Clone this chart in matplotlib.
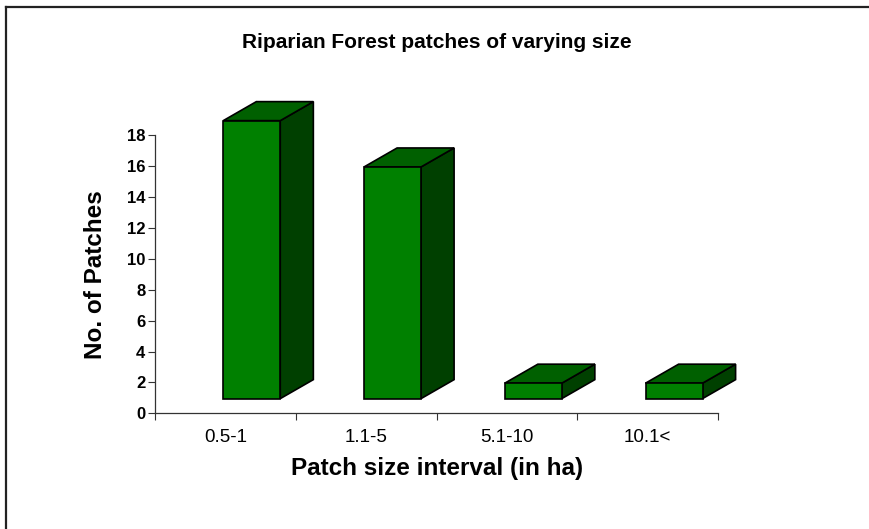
import matplotlib
matplotlib.use("Agg")
import matplotlib.pyplot as plt
from matplotlib.patches import Polygon
from matplotlib.lines import Line2D

plt.rcParams["font.family"] = ["Liberation Sans", "DejaVu Sans"]

# data
categories = ["0.5-1", "1.1-5", "5.1-10", "10.1<"]
patches = [18, 15, 1, 1]
yticks = [0, 2, 4, 6, 8, 10, 12, 14, 16, 18]

# pseudo-3D column geometry (data units), mimicking the Excel 3D look
BASE = 0.95            # floor offset of the front face
X0, W = 0.485, 0.405   # front face start within category and width
DX, DY = 0.235, 1.23   # depth offset of the back face
FRONT, TOP, SIDE = "#008000", "#006000", "#004000"

W_PX, H_PX, DPI = 869, 529, 100
fig = plt.figure(figsize=(W_PX / DPI, H_PX / DPI), dpi=DPI)
ax = fig.add_axes([155 / W_PX, (H_PX - 413.3) / H_PX,
                   (718 - 155) / W_PX, (413.3 - 135.3) / H_PX])
ax.set_xlim(0, 4)
ax.set_ylim(0, 18)

for i, v in enumerate(patches):
    x0, x1 = i + X0, i + X0 + W
    y0, y1 = BASE, BASE + v
    side = [(x1, y0), (x1 + DX, y0 + DY), (x1 + DX, y1 + DY), (x1, y1)]
    top = [(x0, y1), (x1, y1), (x1 + DX, y1 + DY), (x0 + DX, y1 + DY)]
    front = [(x0, y0), (x1, y0), (x1, y1), (x0, y1)]
    for pts, c in [(side, SIDE), (top, TOP), (front, FRONT)]:
        ax.add_patch(Polygon(pts, closed=True, facecolor=c, edgecolor="black",
                             linewidth=1.2, clip_on=False, zorder=3))

for s in ["top", "right"]:
    ax.spines[s].set_visible(False)
for s in ["left", "bottom"]:
    ax.spines[s].set_linewidth(0.9)
    ax.spines[s].set_color("#333333")

ax.set_yticks(yticks)
ax.set_yticklabels([str(t) for t in yticks], fontsize=12, fontweight="bold")
ax.set_xticks([0, 1, 2, 3, 4])
ax.set_xticklabels([])
ax.set_xticks([i + 0.5 for i in range(len(categories))], minor=True)
ax.set_xticklabels(categories, minor=True, fontsize=13.5)
ax.tick_params(axis="x", which="minor", length=0, pad=11)
ax.tick_params(axis="x", which="major", length=5, direction="out", color="#333333")
ax.tick_params(axis="y", length=5, direction="out", color="#333333", pad=2)

# titles placed in figure pixels
def fig_xy(px, py):
    return px / W_PX, 1 - py / H_PX

fig.text(*fig_xy(437, 42), "Riparian Forest patches of varying size",
         ha="center", va="center", fontsize=15, fontweight="bold")
fig.text(*fig_xy(95, 275), "No. of Patches", rotation=90,
         ha="center", va="center", fontsize=17.5, fontweight="bold")
fig.text(*fig_xy(437, 468), "Patch size interval (in ha)",
         ha="center", va="center", fontsize=17.5, fontweight="bold")

# chart-area frame (right and bottom edges are cropped off in the reference)
fig.add_artist(Line2D([5.5 / W_PX, 1], [1 - 6.5 / H_PX, 1 - 6.5 / H_PX],
                      transform=fig.transFigure, color="#222222", lw=1.6))
fig.add_artist(Line2D([5.5 / W_PX, 5.5 / W_PX], [0, 1 - 6.5 / H_PX],
                      transform=fig.transFigure, color="#222222", lw=1.6))

fig.savefig("out.png", dpi=DPI)
